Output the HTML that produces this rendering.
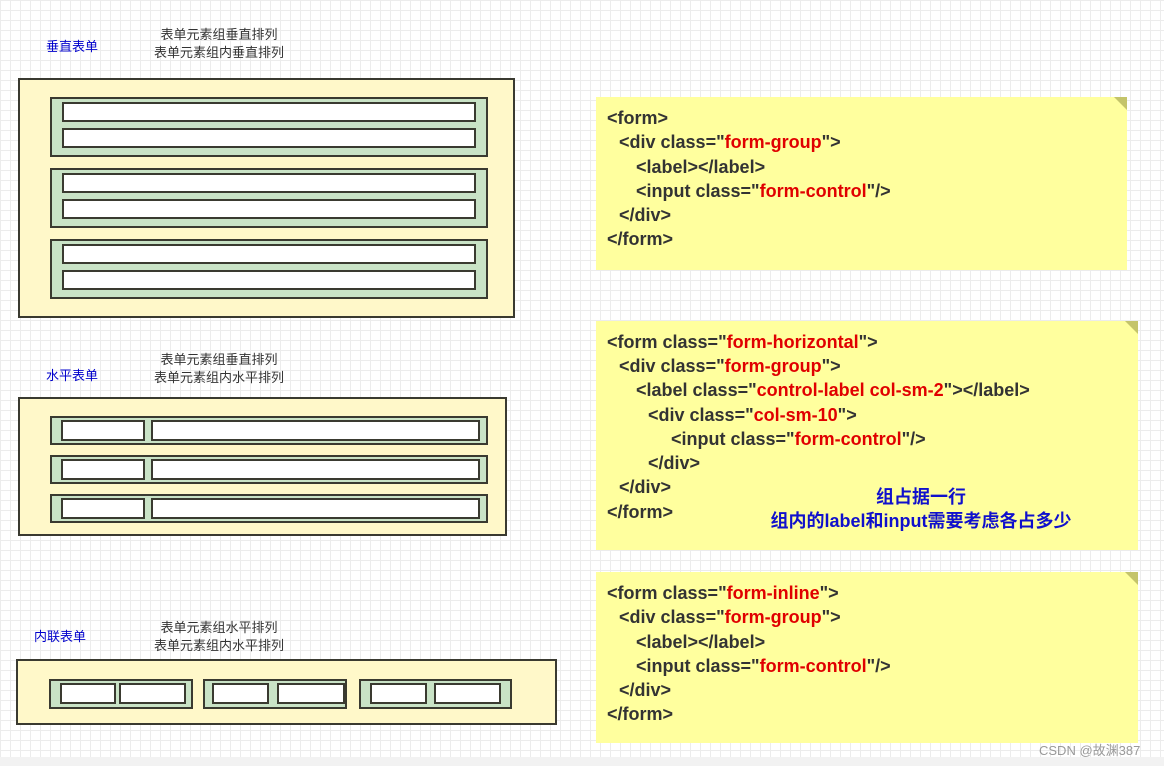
<!DOCTYPE html>
<html><head><meta charset="utf-8"><style>
body{margin:0;width:1164px;height:766px;position:relative;overflow:hidden;background:#fff;
background-image:linear-gradient(#ececec 1px,transparent 1px),linear-gradient(90deg,#ececec 1px,transparent 1px);background-size:10px 10px;font-family:"Liberation Sans","Noto Sans CJK SC",sans-serif;}
.a{position:absolute;box-sizing:border-box;}
.f{background:#fff8c9;border:2px solid #3a3a30;}
.g{background:#c9e3c6;border:2px solid #3a3a30;}
.i{background:#fff;border:2px solid #3a3a30;}
.n{background:#ffff9e;}
.fold{position:absolute;width:0;height:0;border-left:13px solid transparent;border-top:13px solid #c4c46a;}
.t{position:absolute;white-space:nowrap;font-size:18px;font-weight:bold;color:#333;line-height:24px;}
.r{color:#e00000;}
.b{position:absolute;white-space:nowrap;font-size:13px;color:#0000cc;line-height:16px;}
.c{position:absolute;white-space:nowrap;font-size:13px;color:#333;line-height:18px;text-align:center;width:160px;}
</style></head><body>
<div style="position:absolute;left:0;top:757px;width:1164px;height:9px;background:#f2f2f2"></div>

<div class="b" style="left:46px;top:39px">垂直表单</div>
<div class="c" style="left:139px;top:26px">表单元素组垂直排列<br>表单元素组内垂直排列</div>
<div class="a f" style="left:18px;top:78px;width:497px;height:240px"></div>
<div class="a g" style="left:50px;top:97px;width:438px;height:60px"></div>
<div class="a i" style="left:62px;top:102px;width:414px;height:20px"></div>
<div class="a i" style="left:62px;top:128px;width:414px;height:20px"></div>
<div class="a g" style="left:50px;top:168px;width:438px;height:60px"></div>
<div class="a i" style="left:62px;top:173px;width:414px;height:20px"></div>
<div class="a i" style="left:62px;top:199px;width:414px;height:20px"></div>
<div class="a g" style="left:50px;top:239px;width:438px;height:60px"></div>
<div class="a i" style="left:62px;top:244px;width:414px;height:20px"></div>
<div class="a i" style="left:62px;top:270px;width:414px;height:20px"></div>

<div class="b" style="left:46px;top:368px">水平表单</div>
<div class="c" style="left:139px;top:351px">表单元素组垂直排列<br>表单元素组内水平排列</div>
<div class="a f" style="left:18px;top:397px;width:489px;height:139px"></div>
<div class="a g" style="left:50px;top:416px;width:438px;height:29px"></div>
<div class="a i" style="left:61px;top:420px;width:84px;height:21px"></div>
<div class="a i" style="left:151px;top:420px;width:329px;height:21px"></div>
<div class="a g" style="left:50px;top:455px;width:438px;height:29px"></div>
<div class="a i" style="left:61px;top:459px;width:84px;height:21px"></div>
<div class="a i" style="left:151px;top:459px;width:329px;height:21px"></div>
<div class="a g" style="left:50px;top:494px;width:438px;height:29px"></div>
<div class="a i" style="left:61px;top:498px;width:84px;height:21px"></div>
<div class="a i" style="left:151px;top:498px;width:329px;height:21px"></div>

<div class="b" style="left:34px;top:629px">内联表单</div>
<div class="c" style="left:139px;top:619px">表单元素组水平排列<br>表单元素组内水平排列</div>
<div class="a f" style="left:16px;top:659px;width:541px;height:66px"></div>
<div class="a g" style="left:49px;top:679px;width:144px;height:30px"></div>
<div class="a i" style="left:60px;top:683px;width:56px;height:21px"></div>
<div class="a i" style="left:119px;top:683px;width:67px;height:21px"></div>
<div class="a g" style="left:203px;top:679px;width:144px;height:30px"></div>
<div class="a i" style="left:212px;top:683px;width:57px;height:21px"></div>
<div class="a i" style="left:277px;top:683px;width:68px;height:21px"></div>
<div class="a g" style="left:359px;top:679px;width:153px;height:30px"></div>
<div class="a i" style="left:370px;top:683px;width:57px;height:21px"></div>
<div class="a i" style="left:434px;top:683px;width:67px;height:21px"></div>

<div class="a n" style="left:596px;top:97px;width:531px;height:173px"></div>
<div class="fold" style="left:1114px;top:97px"></div>
<div class="t" style="left:607px;top:106px">&lt;form&gt;</div>
<div class="t" style="left:619px;top:130px">&lt;div class="<span class="r">form-group</span>"&gt;</div>
<div class="t" style="left:636px;top:155px">&lt;label&gt;&lt;/label&gt;</div>
<div class="t" style="left:636px;top:179px">&lt;input class="<span class="r">form-control</span>"/&gt;</div>
<div class="t" style="left:619px;top:203px">&lt;/div&gt;</div>
<div class="t" style="left:607px;top:227px">&lt;/form&gt;</div>

<div class="a n" style="left:596px;top:321px;width:542px;height:229px"></div>
<div class="fold" style="left:1125px;top:321px"></div>
<div class="t" style="left:607px;top:330px">&lt;form class="<span class="r">form-horizontal</span>"&gt;</div>
<div class="t" style="left:619px;top:354px">&lt;div class="<span class="r">form-group</span>"&gt;</div>
<div class="t" style="left:636px;top:378px">&lt;label class="<span class="r">control-label col-sm-2</span>"&gt;&lt;/label&gt;</div>
<div class="t" style="left:648px;top:403px">&lt;div class="<span class="r">col-sm-10</span>"&gt;</div>
<div class="t" style="left:671px;top:427px">&lt;input class="<span class="r">form-control</span>"/&gt;</div>
<div class="t" style="left:648px;top:451px">&lt;/div&gt;</div>
<div class="t" style="left:619px;top:475px">&lt;/div&gt;</div>
<div class="t" style="left:607px;top:500px">&lt;/form&gt;</div>
<div class="t" style="left:755px;top:485px;width:332px;text-align:center;color:#1010cc">组占据一行<br>组内的label和input需要考虑各占多少</div>

<div class="a n" style="left:596px;top:572px;width:542px;height:171px"></div>
<div class="fold" style="left:1125px;top:572px"></div>
<div class="t" style="left:607px;top:581px">&lt;form class="<span class="r">form-inline</span>"&gt;</div>
<div class="t" style="left:619px;top:605px">&lt;div class="<span class="r">form-group</span>"&gt;</div>
<div class="t" style="left:636px;top:630px">&lt;label&gt;&lt;/label&gt;</div>
<div class="t" style="left:636px;top:654px">&lt;input class="<span class="r">form-control</span>"/&gt;</div>
<div class="t" style="left:619px;top:678px">&lt;/div&gt;</div>
<div class="t" style="left:607px;top:702px">&lt;/form&gt;</div>

<div style="position:absolute;left:1039px;top:740px;font-size:13px;color:#999;white-space:nowrap">CSDN @故渊387</div>
</body></html>
